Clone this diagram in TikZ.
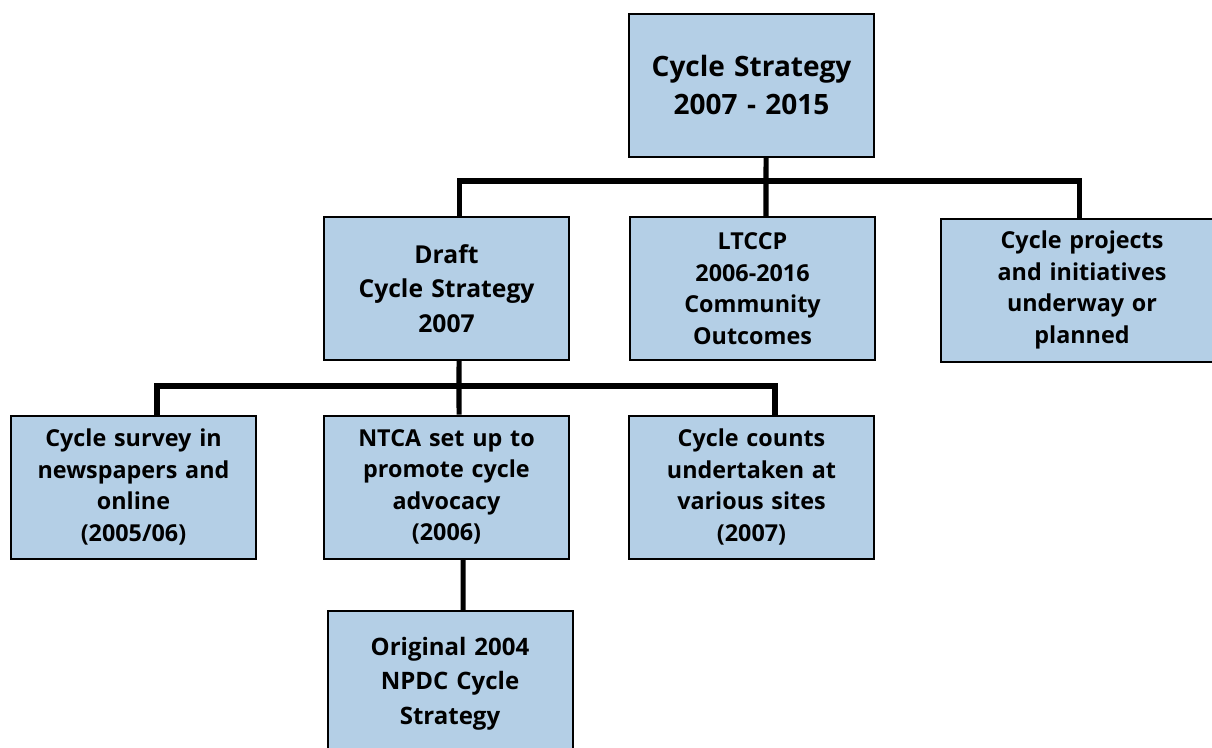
\documentclass[tikz,border=0pt]{standalone}
\usepackage{fontspec}
\setmainfont{Open Sans}
\definecolor{boxblue}{HTML}{B4CFE6}
\tikzset{
  box/.style={draw=black, line width=1.5pt, fill=boxblue, minimum width=245*0.75pt, minimum height=143*0.75pt, text width=235*0.75pt, align=center, inner sep=0pt, font=\fontsize{17.5}{23.6}\selectfont\bfseries},
  link/.style={draw=black, line width=3.8pt}
}
\begin{document}
\begin{tikzpicture}[x=0.75pt,y=0.75pt,yscale=-1,xscale=1]
    \useasboundingbox (0,0) rectangle (1212,747);
    %Boxes
    \node (top) [box, font=\fontsize{21}{28}\selectfont\bfseries] at (751.5,85) {Cycle Strategy\\2007 - 2015};
    \node (draft) [box, font=\fontsize{18.5}{26}\selectfont\bfseries] at (446.5,288.5) {Draft\\Cycle Strategy\\2007};
    \node (ltccp) [box] at (752.5,288.5) {LTCCP\\2006-2016\\Community\\Outcomes};
    \node (proj) [box, minimum width=282*0.75pt] at (1082,290) {Cycle projects\\and initiatives\\underway or\\planned};
    \node (survey) [box] at (133.5,487) {Cycle survey in\\newspapers and\\online\\(2005/06)};
    \node (ntca) [box] at (446.5,487) {NTCA set up to\\promote cycle\\advocacy\\(2006)};
    \node (counts) [box] at (751.5,487) {Cycle counts\\undertaken at\\various sites\\(2007)};
    \node (orig) [box, minimum height=145*0.75pt, font=\fontsize{18}{26}\selectfont\bfseries] at (450,683.5) {Original 2004\\NPDC Cycle\\Strategy};
    %Connectors
    \coordinate (bus1) at (766,181);
    \coordinate (bus2) at (459,386);
    \draw[link] ([xshift=10.9pt]top.south) -- (bus1);
    \draw[link] ([xshift=9.4pt]draft.north) |- (bus1) -| ([xshift=-2.2pt]proj.north);
    \draw[link] (bus1) -- ([xshift=10.1pt]ltccp.north);
    \draw[link] ([xshift=9.4pt]draft.south) -- (bus2);
    \draw[link] ([xshift=17.6pt]survey.north) |- (bus2) -| ([xshift=17.6pt]counts.north);
    \draw[link] (bus2) -- ([xshift=9.4pt]ntca.north);
    \draw[link] ([xshift=12.4pt]ntca.south) -- ([xshift=9.8pt]orig.north);
\end{tikzpicture}
\end{document}
